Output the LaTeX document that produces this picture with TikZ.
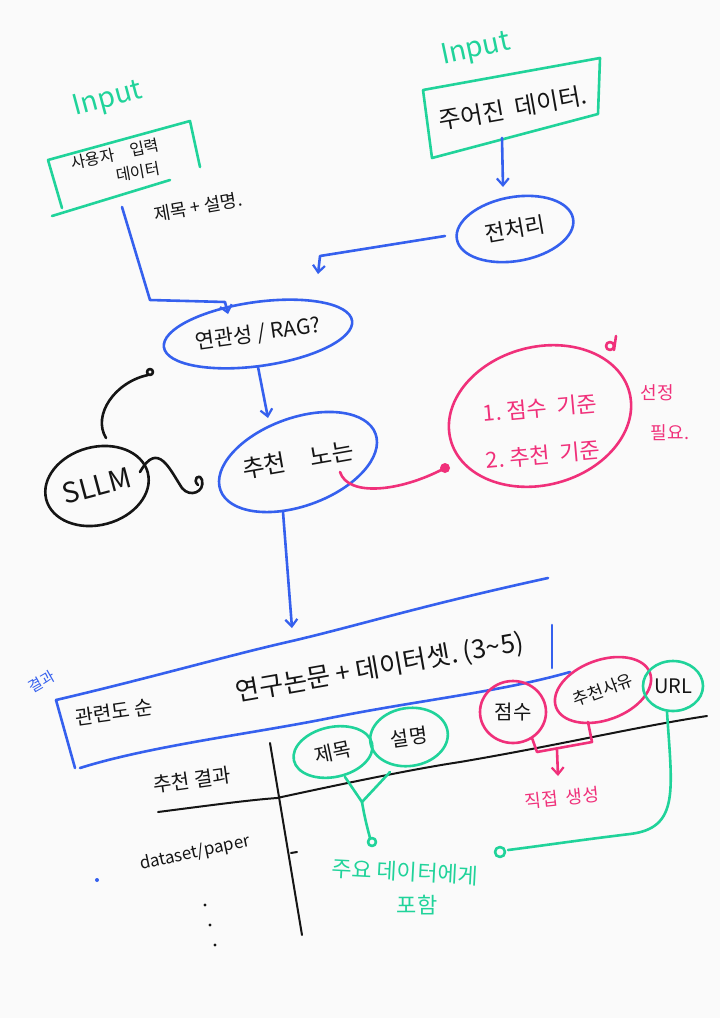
\documentclass[tikz,border=0pt]{standalone}
\usepackage{fontspec}
\setmainfont{Noto Sans CJK KR}
\usetikzlibrary{shapes.geometric,arrows.meta}
\definecolor{hgreen}{HTML}{20D39A}
\definecolor{hblue}{HTML}{3560EE}
\definecolor{hpink}{HTML}{F0307A}
\definecolor{hink}{HTML}{151515}
\newcommand{\myfs}[1]{\fontsize{#1}{#1}\selectfont}
\begin{document}
\begin{tikzpicture}[x=1pt,y=-1pt,
  pen/.style={line width=2.6pt,line cap=round,line join=round},
  thinpen/.style={line width=2pt,line cap=round,line join=round},
  bub/.style={ellipse,draw,pen,inner sep=0pt},
  arr/.style={-{Straight Barb[length=7pt,width=12pt,line width=2.2pt]}},
  lbl/.style={text=hink,inner sep=1pt},
  glbl/.style={text=hgreen,inner sep=1pt},
  plbl/.style={text=hpink,inner sep=1pt},
]
\useasboundingbox (0,0) rectangle (720,1018);
\fill[white!98!black] (0,0) rectangle (720,1018);

% ---- Input A ----
\node[glbl,rotate=15,font=\myfs{28}] (inA) at (108,100) {Input};
\coordinate (b1a) at (48,160);
\coordinate (b1b) at (190,121);
\coordinate (b1c) at (200,167);
\coordinate (b1d) at (62,208);
\coordinate (b1e) at (52,216);
\coordinate (b1f) at (170,180);
\draw[pen,hgreen] (b1c) -- (b1b) -- (b1a) -- (b1d);
\draw[pen,hgreen] (b1e) -- (b1f);
\node[lbl,rotate=12,font=\myfs{16}] (u1) at (115,154) {사용자\quad 입력};
\node[lbl,rotate=10,font=\myfs{16}] (u2) at (138,172) {데이터};
\node[lbl,rotate=10,font=\myfs{18}] (tdesc) at (198,207) {제목 + 설명.};

% ---- Input B ----
\node[glbl,rotate=12,font=\myfs{28}] (inB) at (476,50) {Input};
\coordinate (b2a) at (432,158);
\coordinate (b2b) at (423,90);
\coordinate (b2c) at (600,58);
\coordinate (b2d) at (598,114);
\draw[pen,hgreen] (b2a) -- (b2b) -- (b2c) -- (b2d) -- cycle;
\node[lbl,rotate=10,font=\myfs{24}] (given) at (513,108) {주어진\ \ 데이터.};

% ---- preprocessing ----
\node[bub,hblue,rotate=10,minimum width=118pt,minimum height=64pt,text=hink,font=\myfs{22}] (pre) at (515,229) {전처리};
\coordinate (g1) at (502,138);
\coordinate (g2) at (503,187);
\draw[pen,hblue,arr] (g1) -- (g2);

% ---- RAG ----
\node[bub,hblue,rotate=8,minimum width=190pt,minimum height=64pt,text=hink,font=\myfs{21}] (rag) at (258,334) {연관성 / RAG?};
\coordinate (p1) at (445,236);
\coordinate (p2) at (320,256);
\coordinate (p3) at (318,274);
\draw[pen,hblue,arr] (p1) -- (p2) -- (p3);
\coordinate (l1) at (122,207);
\coordinate (l2) at (150,300);
\coordinate (l3) at (225,302);
\coordinate (l4) at (228,314);
\draw[pen,hblue,arr] (l1) -- (l2) -- (l3) -- (l4);

% ---- recommendation ----
\node[bub,hblue,rotate=20,minimum width=165pt,minimum height=88pt] (rec) at (298,462) {};
\node[lbl,rotate=10,font=\myfs{24}] (rect) at (298,460) {추천\quad 노는};
\coordinate (r1) at (258,367);
\coordinate (r2) at (268,418);
\draw[pen,hblue,arr] (r1) -- (r2);

% ---- criteria ----
\node[bub,hpink,rotate=15,minimum width=185pt,minimum height=138pt] (crit) at (540,416) {};
\node[plbl,rotate=5,font=\myfs{22}] (c1) at (540,408) {1.\ 점수\ \ 기준};
\node[plbl,rotate=5,font=\myfs{22}] (c2) at (543,455) {2.\ 추천\ \ 기준};
\coordinate (k1) at (340,472);
\coordinate (k2) at (445,468);
\draw[pen,hpink] (k1) .. controls (348,497) and (400,492) .. (k2);
\fill[hpink] (k2) circle (5pt);
\draw[pen,hpink] (610,346) circle (4pt) (616,336) -- (614,350);
\node[plbl,font=\myfs{18}] (sel1) at (657,393) {선정};
\node[plbl,font=\myfs{18}] (sel2) at (670,433) {필요.};

% ---- SLLM ----
\node[bub,draw=hink,rotate=15,minimum width=105pt,minimum height=78pt,text=hink,font=\myfs{28}] (sllm) at (97,486) {SLLM};
\coordinate (s1) at (140,472);
\coordinate (s2) at (198,485);
\draw[pen,hink] (s1) .. controls (158,440) and (170,470) .. (182,488) .. controls (190,498) and (205,492) .. (202,480) .. controls (199,472) and (192,480) .. (s2);
\coordinate (s3) at (106,438);
\coordinate (s4) at (148,375);
\draw[pen,hink] (s3) .. controls (92,415) and (115,382) .. (s4);
\draw[pen,hink] (150,372) circle (3pt);

% ---- result box ----
\coordinate (a1) at (283,512);
\coordinate (a2) at (292,628);
\draw[pen,hblue,arr] (a1) -- (a2);
\draw[pen,hblue] (56,700) .. controls (150,678) and (230,655) .. (292,641) .. controls (360,625) and (420,606) .. (548,578);
\draw[pen,hblue] (56,700) -- (75,768);
\draw[pen,hblue] (80,768) .. controls (150,746) and (250,734) .. (330,718) .. controls (420,700) and (500,692) .. (570,672);
\draw[pen,hblue] (552,625) -- (552,668);
\node[text=hblue,rotate=30,font=\myfs{15}] (res) at (42,682) {결과};
\node[lbl,rotate=8,font=\myfs{20}] (rel) at (114,712) {관련도\ 순};
\node[lbl,rotate=10,font=\myfs{26}] (papers) at (380,668) {연구논문 + 데이터셋.\ (3\textasciitilde5)};

% ---- table ----
\draw[thinpen,hink] (158,812) .. controls (220,804) and (250,800) .. (277,798) .. controls (360,780) and (420,768) .. (460,762) .. controls (560,745) and (640,726) .. (707,716);
\draw[thinpen,hink] (270,743) -- (302,935);
\node[lbl,rotate=8,font=\myfs{20}] (rhead) at (192,780) {추천\ 결과};
\node[lbl,rotate=12,font=\myfs{17}] (dp) at (195,853) {dataset/paper};
\draw[thinpen,hink] (291,853) -- (297,852);
\fill[hink] (205,905) circle (1.6pt) (210,925) circle (1.6pt) (215,945) circle (1.6pt);
\fill[hblue] (97,880) circle (2pt);

% ---- columns ----
\node[bub,hgreen,rotate=12,minimum width=80pt,minimum height=50pt,text=hink,font=\myfs{20}] (title) at (333,752) {제목};
\node[bub,hgreen,rotate=8,minimum width=78pt,minimum height=58pt,text=hink,font=\myfs{20}] (desc) at (409,737) {설명};
\coordinate (v1) at (345,777);
\coordinate (v2) at (362,802);
\coordinate (v3) at (390,772);
\coordinate (v4) at (370,838);
\draw[pen,hgreen] (v1) -- (v2) -- (v3);
\draw[pen,hgreen] (v2) .. controls (365,820) and (368,830) .. (v4);
\draw[pen,hgreen] (372,842) circle (4pt);
\node[glbl,rotate=-3,font=\myfs{22}] (note1) at (405,872) {주요\ 데이터에게};
\node[glbl,font=\myfs{22}] (note2) at (417,905) {포함};

\node[bub,hpink,minimum width=66pt,minimum height=62pt,text=hink,font=\myfs{20}] (score) at (513,712) {점수};
\node[bub,hpink,rotate=20,minimum width=100pt,minimum height=60pt,text=hink,font=\myfs{17}] (reason) at (603,690) {추천사유};
\node[bub,hgreen,minimum width=60pt,minimum height=50pt,text=hink,font=\myfs{20}] (url) at (673,686) {URL};
\coordinate (q1) at (532,738);
\coordinate (q2) at (537,752);
\coordinate (q3) at (592,742);
\coordinate (q4) at (588,722);
\draw[pen,hpink] (q1) -- (q2) -- (q3) -- (q4);
\coordinate (q5) at (557,750);
\coordinate (q6) at (558,776);
\draw[pen,hpink,arr] (q5) -- (q6);
\node[plbl,rotate=6,font=\myfs{18}] (direct) at (562,798) {직접\ \ 생성};
\coordinate (w1) at (667,712);
\coordinate (w2) at (508,850);
\draw[pen,hgreen] (w1) .. controls (672,790) and (680,828) .. (630,834) .. controls (580,840) and (540,846) .. (w2);
\draw[pen,hgreen] (500,852) circle (5pt);
\end{tikzpicture}
\end{document}
